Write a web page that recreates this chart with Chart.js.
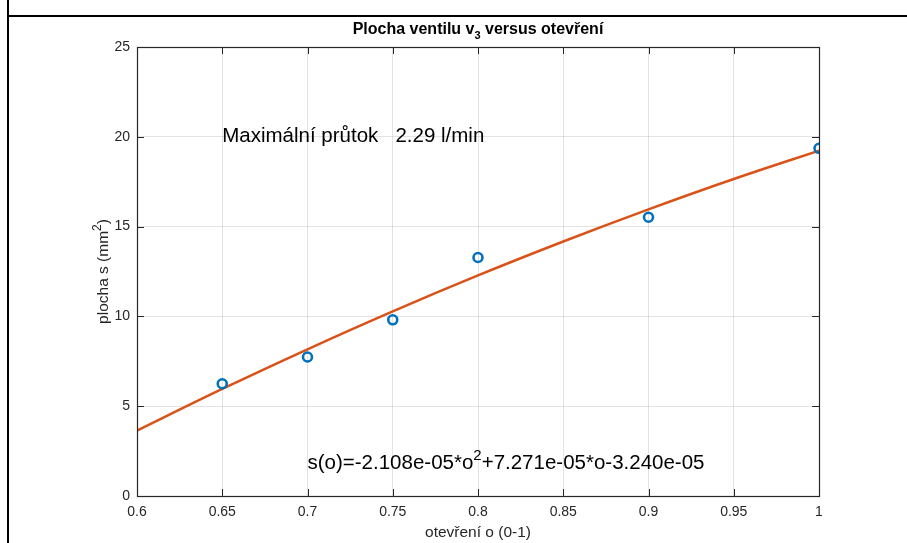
<!DOCTYPE html>
<html><head><meta charset="utf-8">
<script src="https://cdn.jsdelivr.net/npm/chart.js@4"></script>
<style>html,body{margin:0;padding:0;background:#fff}canvas{display:block}</style>
</head><body>
<div style="width:907px;height:543px"><canvas id="c" width="907" height="543"></canvas></div>
<script>
// measured points
const openings = [0.65, 0.7, 0.75, 0.8, 0.9, 1.0];
const areas = [6.25, 7.74, 9.81, 13.28, 15.52, 19.36];
// fitted curve
const fitOpenings = [0.6, 0.65, 0.7, 0.75, 0.8, 0.85, 0.9, 0.95, 1.0];
const fitAreas = [3.64, 5.96, 8.17, 10.28, 12.28, 14.17, 15.96, 17.65, 19.23];
// ticks
const xTicks = [0.6, 0.65, 0.7, 0.75, 0.8, 0.85, 0.9, 0.95, 1];
const yTicks = [0, 5, 10, 15, 20, 25];
const titleMain = 'Plocha ventilu v';
const titleSub = '3';
const titleRest = ' versus otevření';
const xLabel = 'otevření o (0-1)';
const yLabelParts = ['plocha s (mm', '2', ')'];
const flowNote = 'Maximální průtok   2.29 l/min';
const eqParts = ['s(o)=-2.108e-05*o', '2', '+7.271e-05*o-3.240e-05'];

const FONT = '"Liberation Sans", Arial, Helvetica, sans-serif';
const AX = '#262626';

function richWidth(ctx, parts) {
  let w = 0;
  for (const p of parts) { ctx.font = p.f; w += ctx.measureText(p.t).width; }
  return w;
}
function drawRich(ctx, parts, x, y, align) {
  const w = richWidth(ctx, parts);
  let cx = align === 'center' ? x - w / 2 : x;
  for (const p of parts) {
    ctx.font = p.f;
    ctx.fillText(p.t, cx, y + (p.dy || 0));
    cx += ctx.measureText(p.t).width;
  }
}

const decor = {
  id: 'decor',
  afterDraw(chart) {
    const ctx = chart.ctx;
    const a = chart.chartArea;
    const xs = chart.scales.x, ys = chart.scales.y;
    ctx.save();
    // inward tick marks
    ctx.strokeStyle = AX; ctx.lineWidth = 1;
    ctx.beginPath();
    for (const v of xTicks) {
      const px = Math.round(xs.getPixelForValue(v)) + 0.5;
      ctx.moveTo(px, a.bottom); ctx.lineTo(px, a.bottom - 7);
      ctx.moveTo(px, a.top); ctx.lineTo(px, a.top + 7);
    }
    for (const v of yTicks) {
      const py = Math.round(ys.getPixelForValue(v)) + 0.5;
      ctx.moveTo(a.left, py); ctx.lineTo(a.left + 7, py);
      ctx.moveTo(a.right, py); ctx.lineTo(a.right - 7, py);
    }
    ctx.stroke();
    // box
    ctx.lineWidth = 1.2;
    ctx.strokeRect(Math.round(a.left) + 0.5, Math.round(a.top) + 0.5, Math.round(a.right - a.left), Math.round(a.bottom - a.top));

    // title
    ctx.fillStyle = '#000';
    ctx.textBaseline = 'alphabetic';
    drawRich(ctx, [
      {t: titleMain, f: 'bold 16px ' + FONT},
      {t: titleSub, f: 'bold 11px ' + FONT, dy: 5},
      {t: titleRest, f: 'bold 16px ' + FONT}
    ], (a.left + a.right) / 2, 34, 'center');

    // x label
    ctx.fillStyle = AX;
    ctx.font = '15.5px ' + FONT;
    ctx.textAlign = 'center';
    ctx.fillText(xLabel, (a.left + a.right) / 2, 537);
    ctx.textAlign = 'left';

    // y label
    ctx.save();
    ctx.translate(108, (a.top + a.bottom) / 2);
    ctx.rotate(-Math.PI / 2);
    drawRich(ctx, [
      {t: yLabelParts[0], f: '15.5px ' + FONT},
      {t: yLabelParts[1], f: '12px ' + FONT, dy: -7},
      {t: yLabelParts[2], f: '15.5px ' + FONT}
    ], 0, 0, 'center');
    ctx.restore();

    // annotations
    ctx.fillStyle = '#000';
    ctx.textBaseline = 'middle';
    ctx.font = '20.5px ' + FONT;
    ctx.fillText(flowNote, xs.getPixelForValue(0.65), ys.getPixelForValue(20));
    drawRich(ctx, [
      {t: eqParts[0], f: '20.5px ' + FONT},
      {t: eqParts[1], f: '15px ' + FONT, dy: -8},
      {t: eqParts[2], f: '20.5px ' + FONT}
    ], xs.getPixelForValue(0.7), ys.getPixelForValue(1.8), 'left');

    // outer frame lines
    ctx.fillStyle = '#000';
    ctx.fillRect(7, 0, 2, 543);
    ctx.fillRect(7, 15, 900, 2);
    ctx.restore();
  }
};

new Chart(document.getElementById('c'), {
  type: 'scatter',
  data: {
    datasets: [
      {
        type: 'line',
        data: fitOpenings.map((x, i) => ({x, y: fitAreas[i]})),
        borderColor: '#D95319',
        borderWidth: 2.5,
        pointRadius: 0,
        fill: false,
        cubicInterpolationMode: 'monotone',
        order: 2
      },
      {
        data: openings.map((x, i) => ({x, y: areas[i]})),
        borderColor: '#0072BD',
        backgroundColor: 'rgba(0,0,0,0)',
        borderWidth: 2.6,
        pointRadius: 4.5,
        pointHoverRadius: 4.5,
        order: 1
      }
    ]
  },
  options: {
    responsive: false,
    devicePixelRatio: 1,
    animation: false,
    events: [],
    layout: {padding: {top: 47, right: 88, left: 0, bottom: 0}},
    plugins: {legend: {display: false}, tooltip: {enabled: false}, title: {display: false}},
    scales: {
      x: {
        type: 'linear', min: 0.6, max: 1,
        afterBuildTicks: s => { s.ticks = xTicks.map(v => ({value: v})); },
        afterFit: s => { s.height = 47; },
        grid: {color: 'rgba(38,38,38,0.13)', drawTicks: false},
        border: {display: false},
        ticks: {
          color: AX, padding: 8,
          font: {family: FONT, size: 14},
          callback: v => String(Math.round(v * 100) / 100)
        }
      },
      y: {
        type: 'linear', min: 0, max: 25,
        afterBuildTicks: s => { s.ticks = yTicks.map(v => ({value: v})); },
        afterFit: s => { s.width = 137; },
        grid: {color: 'rgba(38,38,38,0.13)', drawTicks: false},
        border: {display: false},
        ticks: {
          color: AX, padding: 7,
          font: {family: FONT, size: 14},
          callback: v => String(v)
        }
      }
    }
  },
  plugins: [decor]
});
</script>
</body></html>
